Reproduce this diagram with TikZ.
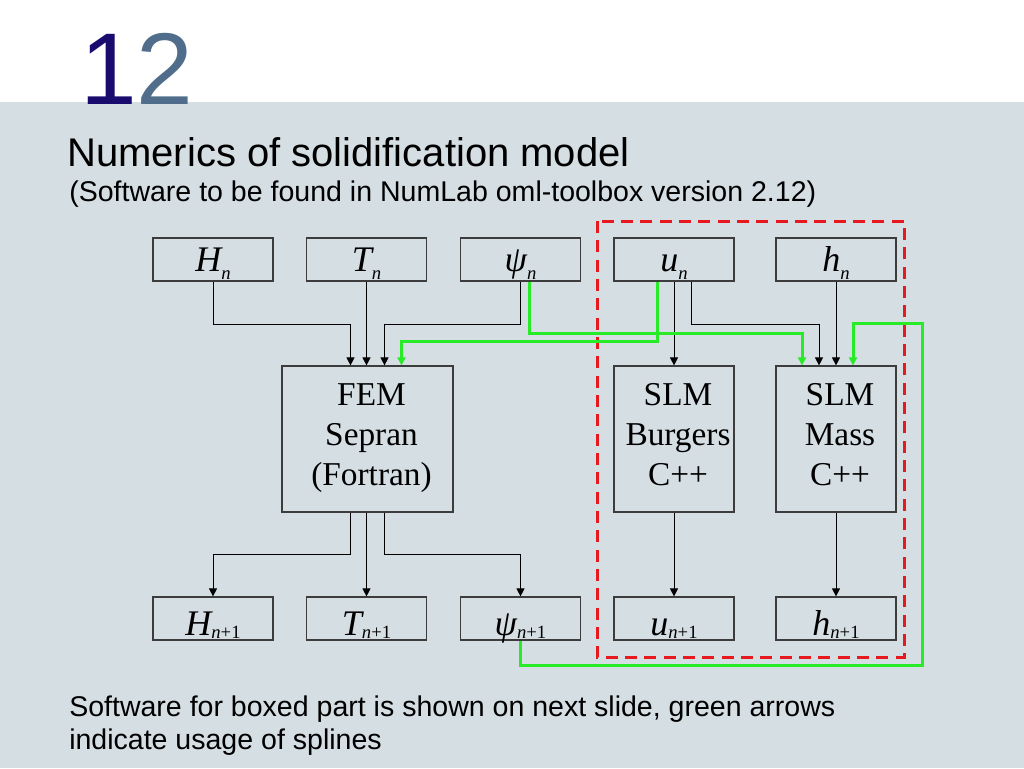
\documentclass[tikz,border=0pt]{standalone}
\usepackage{fontspec}
\setmainfont{Liberation Serif}
\newfontfamily\sansf{Liberation Sans}
\usetikzlibrary{calc,arrows.meta}
\definecolor{bg}{RGB}{213,222,227}
\definecolor{boxc}{RGB}{60,60,60}
\definecolor{grn}{RGB}{40,235,40}
\definecolor{redd}{RGB}{232,25,30}
\definecolor{navy}{RGB}{26,12,110}
\definecolor{slate}{RGB}{80,110,140}
\newcommand\vlab[3]{{\fontsize{27}{27}\selectfont\itshape #1}\raisebox{-#3}{\fontsize{14}{14}\selectfont #2}}
\newcommand\midtext[2]{\begin{minipage}[c][109.5pt][t]{#1}\fontsize{25}{30}\selectfont\centering\leftskip=6pt plus 1fil\vspace*{13pt}#2\end{minipage}}
\begin{document}
\begin{tikzpicture}[x=0.75pt,y=-0.75pt,
  box/.style={draw=boxc,line width=0.9pt,inner sep=0pt,minimum width=90pt},
  topbox/.style={box,text height=24.75pt,text depth=7.5pt},
  botbox/.style={box,text height=28.5pt,text depth=3.75pt},
  midbox/.style={draw=boxc,line width=0.9pt,inner sep=0pt},
  arr/.style={line width=0.75pt,-{Triangle[length=6pt,width=6pt]}},
  garr/.style={draw=grn,line width=2.25pt,-{Triangle[length=6pt,width=6pt]},color=grn},
  ttl/.style={anchor=base west,inner sep=0pt,font=\sansf}]
\useasboundingbox (0,0) rectangle (1024,768);
\fill[white] (0,0) rectangle (1024,102);
\fill[bg] (0,102) rectangle (1024,768);
% header
\node[ttl,font=\sansf\fontsize{76.5}{76.5}\selectfont] (num) at (80,104) {\textcolor{navy}{1}\textcolor{slate}{2}};
\node[ttl,font=\sansf\fontsize{30}{30}\selectfont] (title) at (67,166) {Numerics of solidification model};
\node[ttl,font=\sansf\fontsize{21.4}{21.4}\selectfont] (sub) at (69,201) {(Software to be found in NumLab oml-toolbox version 2.12)};
\node[ttl,font=\sansf\fontsize{21.4}{21.4}\selectfont] (foot1) at (69,716) {Software for boxed part is shown on next slide, green arrows};
\node[ttl,font=\sansf\fontsize{21.4}{21.4}\selectfont] (foot2) at (69,749) {indicate usage of splines};
% red dashed region
\draw[redd,line width=2.25pt,dash pattern=on 9pt off 5.5pt] (597,221) rectangle (904,657);
% top row
\node[topbox] (Hn) at (213,259.5) {\vlab{H}{\itshape n}{6pt}};
\node[topbox] (Tn) at (366.5,259.5) {\vlab{T}{\itshape n}{6pt}};
\node[topbox] (Pn) at (520.5,259.5) {\vlab{ψ}{\itshape n}{6pt}};
\node[topbox] (un) at (674,259.5) {\vlab{u}{\itshape n}{6pt}};
\node[topbox] (hn) at (836,259.5) {\vlab{h}{\itshape n}{6pt}};
% middle row
\node[midbox] (FEM) at (367.5,439) {\midtext{128.25pt}{FEM\\Sepran\\(Fortran)}};
\node[midbox] (Burg) at (674,439) {\midtext{90pt}{SLM\\Burgers\\C++}};
\node[midbox] (Mass) at (836,439) {\midtext{90pt}{SLM\\Mass\\C++}};
% bottom row
\node[botbox] (Hn1) at (213,618.5) {\vlab{H}{{\itshape n}+1}{2.25pt}};
\node[botbox] (Tn1) at (366.5,618.5) {\vlab{T}{{\itshape n}+1}{2.25pt}};
\node[botbox] (Pn1) at (520.5,618.5) {\vlab{ψ}{{\itshape n}+1}{2.25pt}};
\node[botbox] (un1) at (674,618.5) {\vlab{u}{{\itshape n}+1}{2.25pt}};
\node[botbox] (hn1) at (836,618.5) {\vlab{h}{{\itshape n}+1}{2.25pt}};
% black connectors, top
\draw[arr] (Hn.south) -- ++(0,43) -| ($(FEM.north)+(-17,0)$);
\draw[arr] (Tn.south) -- (Tn.south |- FEM.north);
\draw[arr] (Pn.south) -- ++(0,43) -| ($(FEM.north)+(17,0)$);
\draw[arr] (un.south) -- (Burg.north);
\draw[arr] ($(un.south)+(17,0)$) -- ++(0,43) -| ($(Mass.north)+(-17,0)$);
\draw[arr] (hn.south) -- (Mass.north);
% black connectors, bottom
\draw[arr] ($(FEM.south)+(-17,0)$) -- ++(0,42) -| (Hn1.north);
\draw[arr] (Tn1.north |- FEM.south) -- (Tn1.north);
\draw[arr] ($(FEM.south)+(17,0)$) -- ++(0,42) -| (Pn1.north);
\draw[arr] (Burg.south) -- (un1.north);
\draw[arr] (Mass.south) -- (hn1.north);
% green connectors
\draw[garr] ($(Pn.south)+(9,0)$) -- ++(0,52) -| ($(Mass.north)+(-34,0)$);
\draw[garr] ($(un.south)+(-17,0)$) -- ++(0,60) -| ($(FEM.north)+(34,0)$);
\draw[garr] (Pn1.south) -- ++(0,25) -| ($(Mass.north)+(86,-42)$) -| ($(Mass.north)+(17,0)$);
\end{tikzpicture}
\end{document}
